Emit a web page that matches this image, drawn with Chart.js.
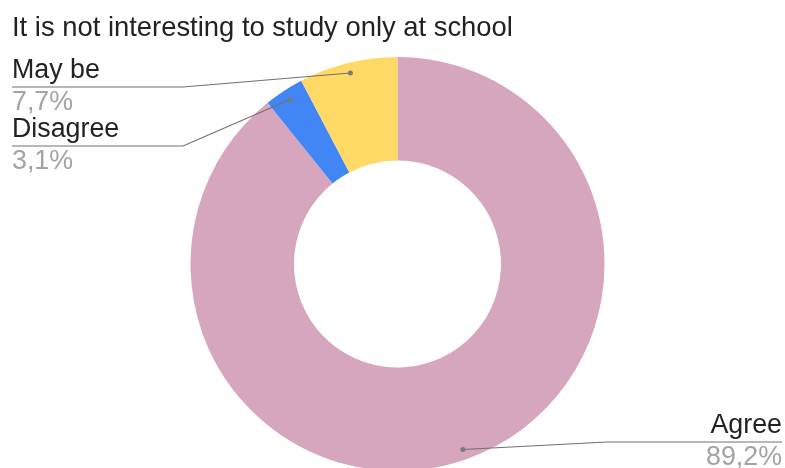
<!DOCTYPE html>
<html>
<head>
<meta charset="utf-8">
<script src="https://cdn.jsdelivr.net/npm/chart.js@4/dist/chart.umd.min.js"></script>
<style>
  html, body { margin: 0; padding: 0; background: #fff; overflow: hidden; }
  #wrap { position: relative; width: 785px; height: 480px; }
</style>
</head>
<body>
<div id="wrap"><canvas id="chart"></canvas></div>
<script>
// Survey answers
const title = 'It is not interesting to study only at school';
const categories = ['Agree', 'Disagree', 'May be'];
const shares = [89.2, 3.1, 7.7];
const colors = ['#d5a6bd', '#4285f4', '#ffd966'];

const FONT = '"Liberation Sans", Arial, sans-serif';

// Where each callout label sits: side, y of the underline, x of the bend, x of the line end
const calloutSlots = [
  { side: 'right', lineY: 442, bendX: 607, endX: 782 },
  { side: 'left',  lineY: 146, bendX: 183, endX: 12 },
  { side: 'left',  lineY: 87,  bendX: 183, endX: 12 }
];

function fmtPct(v) {
  return v.toFixed(1).replace('.', ',') + '%';
}

const calloutPlugin = {
  id: 'callouts',
  afterDatasetsDraw(chart) {
    const ctx = chart.ctx;
    const meta = chart.getDatasetMeta(0);
    const data = chart.data.datasets[0].data;
    const total = data.reduce((a, b) => a + b, 0);

    ctx.save();
    // title
    ctx.fillStyle = '#222222';
    ctx.font = '27.4px ' + FONT;
    ctx.textAlign = 'left';
    ctx.textBaseline = 'alphabetic';
    ctx.fillText(title, 12, 35.5);

    meta.data.forEach((arc, i) => {
      const p = arc.getProps(['x', 'y', 'startAngle', 'endAngle', 'outerRadius'], true);
      const mid = (p.startAngle + p.endAngle) / 2;
      const r = p.outerRadius * 0.95;
      const ax = p.x + Math.cos(mid) * r;
      const ay = p.y + Math.sin(mid) * r;
      const slot = calloutSlots[i];

      ctx.strokeStyle = '#707070';
      ctx.lineWidth = 1.1;
      ctx.beginPath();
      ctx.moveTo(ax, ay);
      ctx.lineTo(slot.bendX, slot.lineY);
      ctx.lineTo(slot.endX, slot.lineY);
      ctx.stroke();

      ctx.fillStyle = '#7a7a7a';
      ctx.beginPath();
      ctx.arc(ax, ay, 2.5, 0, Math.PI * 2);
      ctx.fill();

      ctx.textAlign = slot.side === 'left' ? 'left' : 'right';
      const tx = slot.endX;
      ctx.font = '26.8px ' + FONT;
      ctx.fillStyle = '#222222';
      ctx.fillText(chart.data.labels[i], tx, slot.lineY - 9);
      ctx.fillStyle = '#a3a3a3';
      ctx.fillText(fmtPct(data[i] / total * 100), tx, slot.lineY + 23);
    });
    ctx.restore();
  }
};

new Chart(document.getElementById('chart'), {
  type: 'doughnut',
  data: {
    labels: categories,
    datasets: [{
      data: shares,
      backgroundColor: colors,
      borderWidth: 0,
      hoverOffset: 0
    }]
  },
  options: {
    responsive: true,
    maintainAspectRatio: false,
    animation: false,
    cutout: '50%',
    layout: { padding: { top: 57, bottom: 9, left: 10, right: 0 } },
    events: [],
    plugins: {
      legend: { display: false },
      title: { display: false },
      tooltip: { enabled: false }
    }
  },
  plugins: [calloutPlugin]
});
</script>
</body>
</html>
